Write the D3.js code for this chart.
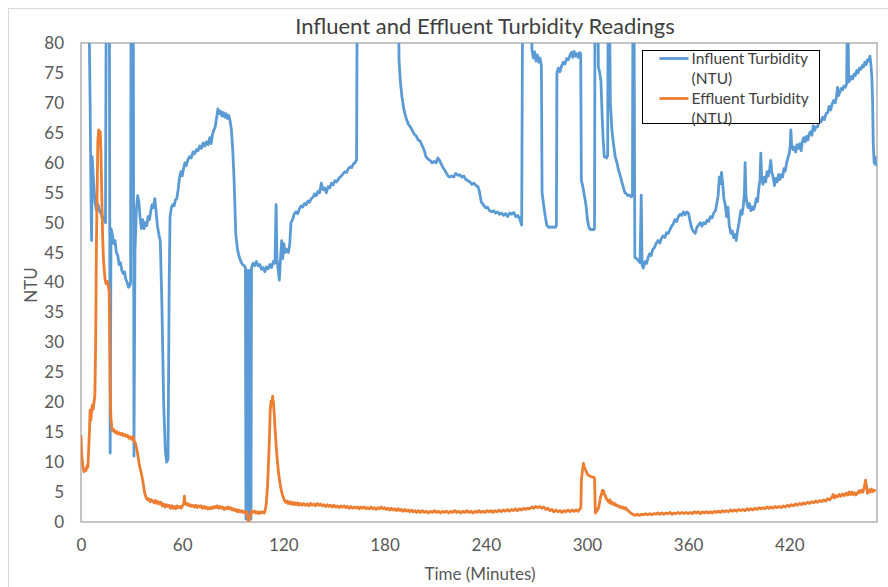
<!DOCTYPE html>
<html>
<head>
<meta charset="utf-8">
<script src="https://cdn.jsdelivr.net/npm/d3@7"></script>
<style>
  body { margin: 0; background: #fff; }
  text { font-family: Lato, "Open Sans", sans-serif; }
</style>
</head>
<body>
<div id="chart"></div>
<script>
// time in minutes, turbidity in NTU (values above 80 run off the top of the plot)
var influent = [
  [0, 95], [4.8, 84], [5.4, 70], [6.0, 52], [6.3, 47], [6.6, 61], [7.4, 57], [8.3, 53.5], [9.2, 52], [10.1, 53],
  [11.0, 52], [11.9, 51.5], [12.8, 50.5], [13.7, 51], [14.5, 50], [15.0, 90], [16.8, 90], [17.3, 11.5], [17.8, 49], [18.6, 48],
  [19.4, 46.5], [20.2, 47], [21.0, 45], [21.8, 44.5], [22.6, 43], [23.4, 43.3], [24.2, 42], [25.0, 41.5], [25.8, 41.8], [26.6, 40.5],
  [27.4, 40], [28.2, 39.2], [29.0, 39.5], [29.4, 40], [29.7, 90], [31.0, 90], [31.4, 11], [32.0, 45], [32.8, 52], [33.6, 54.5],
  [34.3, 53.5], [35.0, 51], [35.8, 49], [36.6, 50.5], [37.4, 49], [38.2, 50], [39.0, 49.5], [39.8, 51], [40.6, 50.5], [41.4, 52],
  [42.2, 53], [43.0, 52.5], [43.8, 54], [44.5, 52], [45.3, 49.5], [46.2, 48], [47.0, 47], [48.0, 36], [49.0, 20], [50.0, 12],
  [50.8, 10], [51.6, 10.5], [52.3, 40], [52.8, 51], [53.6, 52.5], [54.4, 53], [55.2, 52.8], [56.0, 53.8], [56.8, 54], [57.6, 55.5],
  [58.4, 57.5], [59.2, 58.5], [60.0, 57.8], [60.8, 59], [61.6, 60], [62.4, 59.5], [63.4, 60.5], [64.4, 61], [65.4, 60.8], [66.4, 61.8],
  [67.4, 61.5], [68.4, 62.2], [69.4, 62], [70.4, 62.8], [71.4, 62.4], [72.4, 63.3], [73.4, 62.8], [74.4, 63.5], [75.4, 63], [76.4, 64.2],
  [77.2, 63.2], [78.0, 64.8], [78.8, 65.5], [79.6, 66], [80.4, 67.5], [81.2, 69], [82.0, 68.2], [82.8, 68.6], [83.6, 67.8], [84.4, 68.4],
  [85.2, 67.6], [86.0, 68.2], [86.8, 67.4], [87.6, 67.9], [88.4, 67], [89.2, 65.5], [90.0, 62], [90.8, 57], [91.8, 48], [92.8, 45.5],
  [93.8, 44.3], [94.8, 43.5], [95.8, 43], [96.8, 42.8], [97.5, 42.5], [97.8, 0.5], [98.1, 42], [98.4, 0.5], [98.7, 42], [99.0, 0.5],
  [99.3, 42], [99.6, 0.5], [99.9, 42], [100.2, 0.5], [100.5, 42], [100.8, 0.5], [101.1, 42.5], [102.0, 43.2], [103.0, 42.8], [104.0, 43.5],
  [105.0, 42.8], [106.0, 43], [107.0, 42.2], [108.0, 42.5], [109.0, 41.8], [110.0, 42.6], [111.0, 42.3], [112.0, 43], [113.0, 42.5], [114.0, 43.5],
  [115.0, 43.2], [115.7, 53], [116.2, 44], [117.0, 42], [117.6, 40.4], [118.3, 44], [119.0, 47], [119.6, 44], [120.3, 46.5], [121.0, 45],
  [122.0, 45.5], [123.0, 45], [123.8, 46.5], [124.5, 50], [125.5, 50.5], [126.5, 51.5], [127.5, 51.8], [128.5, 51.5], [129.5, 52.3], [130.5, 52.8],
  [131.5, 52.6], [132.5, 53.2], [133.5, 53], [134.5, 53.6], [135.5, 53.4], [136.5, 54], [137.5, 54.2], [138.5, 54.8], [139.5, 54.5], [140.5, 55.2],
  [141.5, 55], [142.5, 56.6], [143.5, 55.5], [144.5, 55.8], [145.5, 55], [146.5, 56], [147.5, 55.8], [148.5, 56.6], [149.5, 56.3], [150.5, 57],
  [151.5, 56.8], [152.5, 57.2], [153.5, 57.6], [154.5, 57.8], [155.5, 58.2], [156.5, 58.5], [157.5, 58.4], [158.5, 59], [159.5, 59.3], [160.5, 59.2],
  [161.5, 59.8], [162.5, 60], [163.4, 60.5], [163.8, 90], [188.0, 90], [188.6, 77], [189.4, 73.5], [190.3, 71], [191.4, 69], [192.6, 67.6],
  [194.0, 66.5], [195.2, 66], [196.3, 65.5], [197.5, 64.8], [198.7, 64.5], [200.0, 63.8], [201.2, 63.6], [202.4, 62.8], [203.6, 62], [204.6, 61],
  [205.8, 60.6], [207.0, 60.4], [208.2, 60], [209.4, 60.2], [210.6, 60], [211.6, 60.8], [212.6, 60.4], [213.6, 59.8], [214.6, 59.2], [215.6, 58.8],
  [216.6, 58.3], [217.6, 57.8], [218.6, 57.6], [219.8, 57.8], [221.0, 57.6], [222.2, 58.2], [223.4, 57.9], [224.6, 58], [225.8, 57.6], [227.0, 57.8],
  [228.2, 57.2], [229.4, 57], [230.6, 56.8], [231.8, 56.4], [233.0, 56.6], [234.2, 56.2], [235.4, 56], [236.4, 55], [237.4, 53.4], [238.6, 53],
  [239.8, 52.5], [241.0, 52.6], [242.2, 52], [243.4, 51.8], [244.6, 52], [245.8, 51.6], [247.0, 51.8], [248.2, 51.4], [249.4, 51.6], [250.6, 51.2],
  [251.8, 51.5], [253.0, 51], [254.2, 51.6], [255.4, 51.4], [256.6, 51.7], [257.8, 51], [259.0, 51.2], [260.2, 50.6], [261.3, 49.6], [261.9, 90],
  [267.0, 90], [267.4, 79], [268.2, 77.5], [269.0, 78.5], [269.8, 77], [270.6, 78], [271.4, 76.8], [272.2, 77.5], [273.0, 76.2], [273.4, 55],
  [274.3, 53], [275.3, 51], [276.3, 49.5], [277.3, 49.2], [278.3, 49.3], [279.3, 49.2], [280.3, 49.3], [281.3, 49.2], [281.9, 49.5], [282.2, 75],
  [283.0, 75.8], [284.0, 75.2], [285.0, 76.2], [286.0, 76.8], [287.0, 76.5], [288.0, 77.4], [289.0, 77.2], [290.0, 78], [290.8, 78.4], [291.6, 77.6],
  [292.4, 78.6], [293.2, 77.8], [294.0, 78.2], [294.8, 77.6], [295.6, 78.4], [296.3, 78.2], [296.7, 57], [297.6, 56], [298.5, 54.5], [299.4, 53],
  [300.3, 50.5], [301.2, 49.2], [302.1, 48.8], [303.0, 48.9], [304.0, 48.8], [304.5, 49], [304.8, 90], [306.4, 90], [306.8, 76], [307.6, 75],
  [308.3, 73.7], [309.0, 68], [309.6, 64], [310.3, 61], [311.0, 61], [311.7, 60.8], [312.3, 61.2], [312.6, 90], [313.3, 90], [313.9, 70],
  [314.8, 65.5], [315.8, 63], [316.8, 61], [317.8, 60], [318.7, 58.8], [319.6, 58], [320.5, 57], [321.5, 56], [322.5, 55], [323.4, 54.8],
  [324.3, 54.5], [325.3, 54.6], [326.3, 54.3], [327.0, 54.5], [327.3, 90], [327.9, 90], [328.4, 44.2], [329.4, 44], [330.4, 43.7], [331.5, 43.3],
  [332.2, 54.6], [332.7, 43], [333.4, 42.4], [334.5, 43.5], [335.4, 43.2], [336.3, 44.2], [337.2, 44.8], [338.1, 44.5], [339.0, 45.5], [340.0, 45.8],
  [341.0, 46.5], [342.2, 47], [343.2, 46.6], [344.2, 47.4], [345.2, 47.8], [346.2, 47.5], [347.2, 48.3], [348.2, 48.2], [349.2, 48.8], [350.2, 49.4],
  [351.2, 49.8], [352.2, 50.5], [353.2, 50.2], [354.2, 51], [355.2, 51.4], [356.2, 51.2], [357.2, 51.8], [358.2, 51.3], [359.2, 51.8], [360.2, 51.6],
  [361.2, 50.2], [362.2, 49], [363.2, 48.5], [364.2, 48.2], [365.2, 49.2], [366.2, 49.6], [367.2, 50], [368.2, 49.4], [369.2, 50], [370.2, 49.8],
  [371.2, 50.4], [372.2, 50.2], [373.2, 51], [374.2, 50.8], [375.2, 51.6], [376.2, 52], [377.0, 53.2], [377.8, 54.5], [378.5, 57.6], [379.2, 56.5],
  [379.8, 58.4], [380.5, 56.5], [381.2, 54], [382.0, 53], [382.8, 51], [383.6, 52.6], [384.4, 49.5], [385.4, 48.2], [386.2, 48.6], [387.0, 47.5],
  [387.8, 48], [388.5, 47], [389.3, 48.6], [390.2, 50], [391.2, 52], [392.0, 51.4], [392.8, 53], [393.4, 55], [393.8, 60], [394.3, 54.5],
  [395.0, 53], [395.6, 52.5], [396.4, 53.2], [397.2, 52], [398.0, 52.6], [398.8, 52.2], [399.6, 52.8], [400.4, 54], [401.2, 53.5], [402.0, 56],
  [402.6, 57], [403.1, 61.6], [403.6, 57.5], [404.4, 56.4], [405.2, 57.6], [406.0, 56.8], [406.8, 58.5], [407.6, 57.8], [408.4, 59], [409.0, 60.4],
  [409.6, 58.5], [410.4, 57.6], [411.2, 56.2], [412.0, 57.4], [412.8, 56.8], [413.6, 58], [414.4, 57.2], [415.2, 58], [416.0, 57.6], [416.8, 59],
  [417.6, 58.6], [418.4, 60], [419.2, 60.8], [420.0, 61.6], [420.6, 63], [420.9, 65.5], [421.4, 63], [422.2, 62.2], [423.0, 62.6], [423.8, 61.8],
  [424.6, 63], [425.4, 62.4], [426.2, 63.2], [427.0, 62], [427.8, 63.6], [428.6, 64.2], [429.4, 63.5], [430.2, 64.4], [431.0, 63.8], [431.8, 64.8],
  [432.6, 65.2], [433.4, 64.6], [434.2, 66.2], [435.0, 65.4], [435.8, 66], [436.8, 66], [437.8, 67.2], [438.8, 66.8], [439.8, 67.6], [440.8, 67.2],
  [441.8, 68.2], [442.7, 68.3], [443.6, 69.4], [444.5, 68.8], [445.4, 69.8], [446.3, 70.4], [447.2, 70], [448.0, 71], [448.6, 72.6], [449.2, 71.2],
  [450.0, 71.8], [450.8, 72.4], [451.6, 72.2], [452.4, 72.8], [453.2, 72.6], [454.0, 73.2], [454.6, 90], [455.2, 73.5], [456.0, 73.8], [456.8, 74.4],
  [457.6, 74], [458.4, 74.8], [459.2, 74.6], [460.0, 75.4], [460.8, 75], [461.6, 75.8], [462.4, 75.6], [463.2, 76.2], [464.0, 76], [464.8, 76.8],
  [465.6, 76.4], [466.4, 77.2], [467.2, 77], [467.8, 77.8], [468.4, 76.4], [469.0, 74], [469.4, 70], [469.8, 63], [470.3, 60], [470.8, 61],
  [471.2, 59.5]
];

var effluent = [
  [0, 14.5], [0.3, 12], [0.7, 10.3], [1.2, 9.2], [1.8, 8.4], [2.4, 8.8], [3.0, 8.6], [3.6, 9.4], [4.1, 9.2], [4.6, 12.5],
  [5.0, 15], [5.4, 18.7], [5.9, 17], [6.3, 18.5], [6.7, 19.5], [7.2, 18.8], [7.7, 20], [8.2, 21], [8.7, 30], [9.1, 45],
  [9.6, 56], [10.0, 63.8], [10.5, 65.5], [11.0, 64.5], [11.4, 65.2], [11.8, 62], [12.3, 55], [12.8, 48], [13.3, 44], [13.8, 42],
  [14.3, 40.4], [15.0, 39.8], [15.6, 40.2], [16.2, 39.5], [16.7, 38.5], [17.1, 30], [17.4, 21], [17.7, 17.5], [18.2, 16], [18.8, 15.2],
  [19.6, 15.4], [20.4, 14.9], [21.2, 15.1], [22.0, 14.7], [22.8, 14.9], [23.6, 14.6], [24.4, 14.8], [25.2, 14.4], [26.0, 14.6], [26.8, 14.3],
  [27.6, 14.5], [28.4, 14], [29.2, 14.2], [30.0, 13.8], [30.8, 14.3], [31.5, 13.5], [32.2, 13.2], [33.0, 12.3], [33.8, 11], [34.6, 9.5],
  [35.4, 8.6], [36.2, 7.5], [37.0, 6.2], [37.8, 4.8], [38.6, 4.1], [39.4, 3.7], [40.2, 3.9], [41.0, 3.4], [41.8, 3.7], [42.6, 3.5],
  [43.4, 3.2], [44.2, 3.6], [45.0, 3.1], [45.8, 3.4], [46.6, 3.0], [47.4, 3.3], [48.2, 2.7], [49.0, 3.0], [49.8, 2.5], [50.6, 2.9],
  [51.4, 2.6], [52.2, 2.8], [53.0, 2.3], [53.8, 2.7], [54.6, 2.3], [55.4, 2.6], [56.2, 2.2], [57.0, 2.7], [57.8, 2.4], [58.6, 2.6],
  [59.4, 2.3], [60.2, 2.7], [60.9, 3.0], [61.3, 4.3], [61.7, 3.2], [62.4, 2.9], [63.2, 3.1], [64.0, 2.7], [64.8, 2.9], [65.6, 2.6],
  [66.4, 2.8], [67.2, 2.5], [68.0, 2.8], [68.8, 2.4], [69.6, 2.7], [70.4, 2.5], [71.2, 2.7], [72.0, 2.3], [72.8, 2.6], [73.6, 2.3],
  [74.4, 2.5], [75.2, 2.2], [76.0, 2.4], [76.8, 2.2], [77.6, 2.5], [78.4, 2.3], [79.2, 2.6], [80.0, 2.4], [80.8, 2.7], [81.6, 2.3],
  [82.4, 2.6], [83.2, 2.3], [84.0, 2.5], [84.8, 2.1], [85.6, 2.4], [86.4, 2.2], [87.2, 2.5], [88.0, 2.2], [88.8, 2.4], [89.6, 2.0],
  [90.4, 2.2], [91.2, 1.9], [92.0, 2.1], [92.8, 1.7], [93.6, 2.0], [94.4, 1.7], [95.2, 1.9], [96.0, 1.6], [96.8, 1.8], [97.6, 1.5],
  [98.3, 1.7], [98.8, 0.8], [99.3, 0.2], [99.9, 0.4], [100.5, 1.2], [101.2, 1.8], [102.0, 1.6], [102.9, 1.8], [103.8, 1.5], [104.6, 1.7],
  [105.4, 1.4], [106.2, 1.7], [107.0, 1.5], [107.8, 1.7], [108.6, 1.5], [109.3, 2.0], [109.9, 3.2], [110.6, 6], [111.2, 10], [111.7, 13.5],
  [112.2, 18.7], [112.7, 20.2], [113.2, 19.5], [113.6, 21], [114.1, 20], [114.6, 18], [115.2, 15], [115.8, 12.5], [116.5, 10], [117.2, 8],
  [118.0, 6.5], [118.8, 5.2], [119.6, 4.4], [120.4, 3.8], [121.2, 3.3], [122.0, 3.5], [122.8, 3.1], [123.6, 3.4], [124.4, 3.0], [125.2, 3.3],
  [126.0, 2.9], [126.8, 3.2], [127.6, 2.9], [128.4, 3.2], [129.2, 2.8], [130.0, 3.1], [131.0, 2.8], [132.0, 3.1], [133.0, 2.8], [134.0, 3.0],
  [135.0, 2.7], [136.0, 3.1], [137.0, 2.8], [138.0, 3.0], [139.0, 2.7], [140.0, 3.1], [141.0, 2.8], [142.0, 3.0], [143.0, 2.7], [144.0, 2.9],
  [145.0, 2.6], [146.0, 2.9], [147.0, 2.6], [148.0, 2.8], [149.0, 2.5], [150.0, 2.8], [151.0, 2.5], [152.0, 2.7], [153.0, 2.4], [154.0, 2.7],
  [155.0, 2.5], [156.0, 2.7], [157.0, 2.4], [158.0, 2.6], [159.0, 2.3], [160.0, 2.6], [161.0, 2.3], [162.0, 2.5], [163.0, 2.3], [164.0, 2.5],
  [165.0, 2.2], [166.0, 2.5], [167.0, 2.3], [168.0, 2.5], [169.0, 2.2], [170.0, 2.4], [171.0, 2.2], [172.0, 2.5], [173.0, 2.2], [174.0, 2.4],
  [175.0, 2.1], [176.0, 2.4], [177.0, 2.2], [178.0, 2.5], [179.0, 2.2], [180.0, 2.4], [181.0, 2.1], [182.0, 2.3], [183.0, 2.0], [184.0, 2.3],
  [185.0, 2.0], [186.0, 2.2], [187.0, 1.9], [188.0, 2.2], [189.0, 1.9], [190.0, 2.1], [191.0, 1.8], [192.0, 2.1], [193.0, 1.8], [194.0, 2.0],
  [195.0, 1.7], [196.0, 2.0], [197.0, 1.7], [198.0, 1.9], [199.0, 1.6], [200.0, 1.9], [201.2, 1.6], [202.4, 1.9], [203.6, 1.6], [204.8, 1.8],
  [206.0, 1.5], [207.2, 1.8], [208.4, 1.6], [209.6, 1.9], [210.8, 1.6], [212.0, 1.8], [213.2, 1.5], [214.4, 1.8], [215.6, 1.6], [216.8, 1.8],
  [218.0, 1.5], [219.2, 1.8], [220.4, 1.6], [221.6, 1.9], [222.8, 1.6], [224.0, 1.8], [225.2, 1.5], [226.4, 1.8], [227.6, 1.6], [228.8, 1.9],
  [230.0, 1.6], [231.2, 1.8], [232.4, 1.5], [233.6, 1.8], [234.8, 1.6], [236.0, 1.9], [237.2, 1.6], [238.4, 1.8], [239.6, 1.6], [240.8, 1.9],
  [242.0, 1.7], [243.2, 1.9], [244.4, 1.6], [245.6, 1.9], [246.8, 1.7], [248.0, 2.0], [249.2, 1.7], [250.4, 2.0], [251.6, 1.8], [252.8, 2.1],
  [254.0, 1.8], [255.2, 2.1], [256.4, 1.9], [257.6, 2.2], [258.8, 1.9], [260.0, 2.2], [261.2, 2.0], [262.4, 2.3], [263.6, 2.1], [264.8, 2.3],
  [266.0, 2.2], [267.2, 2.5], [268.4, 2.3], [269.6, 2.6], [270.8, 2.4], [272.0, 2.6], [273.2, 2.3], [274.4, 2.5], [275.6, 2.1], [276.8, 2.3],
  [278.0, 1.9], [279.2, 2.1], [280.4, 1.7], [281.6, 2.0], [282.8, 1.7], [284.0, 1.9], [285.2, 1.6], [286.4, 1.9], [287.6, 1.7], [288.8, 2.0],
  [290.0, 1.7], [291.2, 2.0], [292.4, 1.8], [293.6, 2.0], [294.8, 1.8], [295.8, 2.2], [296.4, 2.4], [296.7, 7], [297.3, 8.5], [297.9, 9.8],
  [298.5, 9.2], [299.1, 8.7], [299.7, 8.4], [300.3, 8.0], [300.9, 7.8], [301.6, 7.7], [302.3, 7.6], [303.0, 7.5], [303.8, 7.5], [304.5, 7.3],
  [305.0, 1.5], [305.6, 1.8], [306.2, 2.0], [306.8, 2.3], [307.5, 3.2], [308.1, 4.2], [308.6, 4.6], [309.2, 5.3], [309.8, 5.2], [310.4, 4.6],
  [311.0, 4.3], [311.6, 3.9], [312.3, 3.6], [313.0, 3.3], [313.6, 3.7], [314.3, 3.1], [315.0, 3.3], [315.8, 2.9], [316.6, 3.1], [317.4, 2.7],
  [318.2, 2.8], [319.0, 2.5], [319.8, 2.6], [320.6, 2.3], [321.4, 2.5], [322.2, 2.2], [323.0, 2.4], [323.8, 2.0], [324.6, 1.9], [325.4, 1.6],
  [326.2, 1.5], [327.0, 1.3], [328.0, 1.2], [329.0, 1.1], [330.0, 1.3], [331.2, 1.1], [332.4, 1.3], [333.6, 1.2], [334.8, 1.4], [336.0, 1.2],
  [337.2, 1.4], [338.4, 1.2], [339.6, 1.4], [340.8, 1.3], [342.0, 1.5], [343.2, 1.3], [344.4, 1.5], [345.6, 1.3], [346.8, 1.5], [348.0, 1.4],
  [349.2, 1.6], [350.4, 1.3], [351.6, 1.5], [352.8, 1.4], [354.0, 1.6], [355.2, 1.4], [356.4, 1.6], [357.6, 1.4], [358.8, 1.6], [360.0, 1.4],
  [361.2, 1.6], [362.4, 1.4], [363.6, 1.7], [364.8, 1.5], [366.0, 1.7], [367.2, 1.4], [368.4, 1.7], [369.6, 1.5], [370.8, 1.7], [372.0, 1.5],
  [373.2, 1.7], [374.4, 1.5], [375.6, 1.8], [376.8, 1.6], [378.0, 1.8], [379.2, 1.6], [380.4, 1.9], [381.6, 1.7], [382.8, 1.9], [384.0, 1.7],
  [385.2, 2.0], [386.4, 1.8], [387.6, 2.0], [388.8, 1.8], [390.0, 2.1], [391.2, 1.9], [392.4, 2.1], [393.6, 1.9], [394.8, 2.2], [396.0, 2.0],
  [397.2, 2.2], [398.4, 2.0], [399.6, 2.3], [400.8, 2.1], [402.0, 2.4], [403.2, 2.2], [404.4, 2.4], [405.6, 2.2], [406.8, 2.5], [408.0, 2.3],
  [409.2, 2.5], [410.4, 2.3], [411.6, 2.6], [412.8, 2.4], [414.0, 2.6], [415.2, 2.4], [416.4, 2.7], [417.6, 2.5], [418.8, 2.8], [420.0, 2.6],
  [421.2, 2.9], [422.4, 2.7], [423.6, 3.0], [424.8, 2.8], [426.0, 3.1], [427.2, 2.9], [428.4, 3.2], [429.6, 3.0], [430.8, 3.3], [432.0, 3.1],
  [433.2, 3.4], [434.4, 3.2], [435.6, 3.5], [436.8, 3.3], [438.0, 3.6], [439.2, 3.4], [440.4, 3.7], [441.6, 3.5], [442.8, 3.9], [444.0, 3.7],
  [445.2, 4.1], [446.0, 4.6], [446.8, 4.0], [447.6, 4.4], [448.6, 4.2], [449.6, 4.6], [450.6, 4.3], [451.6, 4.7], [452.6, 4.4], [453.6, 4.8],
  [454.6, 4.5], [455.4, 5.0], [456.2, 4.6], [457.0, 5.0], [457.8, 4.6], [458.6, 4.9], [459.4, 4.5], [460.4, 4.8], [461.2, 5.2], [462.0, 4.9],
  [462.8, 5.3], [463.6, 5.0], [464.3, 5.6], [464.8, 6.2], [465.2, 7.0], [465.7, 6.0], [466.4, 4.8], [467.2, 5.4], [468.0, 5.0], [468.8, 5.5],
  [469.6, 5.1], [470.4, 5.3], [471.2, 5.1]
];

var xTicks = [0, 60, 120, 180, 240, 300, 360, 420];
var yTicks = [0, 5, 10, 15, 20, 25, 30, 35, 40, 45, 50, 55, 60, 65, 70, 75, 80];
var seriesNames = [["Influent Turbidity", "(NTU)"], ["Effluent Turbidity", "(NTU)"]];
var seriesColors = ["#5b9bd5", "#ed7d31"];

var W = 888, H = 587;
var margin = {top: 43, right: 11, bottom: 65, left: 81},
    width = W - margin.left - margin.right,
    height = H - margin.top - margin.bottom;

var svg = d3.select("#chart").append("svg")
    .attr("width", W)
    .attr("height", H);

// outer chart frame
svg.append("rect")
    .attr("x", 8.5).attr("y", 8.5)
    .attr("width", W).attr("height", H)
    .attr("fill", "none")
    .attr("stroke", "#d9d9d9");

var g = svg.append("g")
    .attr("transform", "translate(" + margin.left + "," + margin.top + ")");

var x = d3.scaleLinear().domain([0, 472]).range([0, width]);
var y = d3.scaleLinear().domain([0, 80]).range([height, 0]);

svg.append("defs").append("clipPath").attr("id", "plotClip")
  .append("rect").attr("x", 0).attr("y", 0).attr("width", width).attr("height", height);

// x axis labels
var xAxis = g.append("g")
    .attr("transform", "translate(0," + height + ")")
    .call(d3.axisBottom(x).tickValues(xTicks).tickSize(0).tickPadding(17));
xAxis.select(".domain").remove();
xAxis.selectAll("text")
    .attr("fill", "#595959")
    .style("font-size", "17px")
    .style("font-family", "Lato, sans-serif");

// y axis labels
var yAxis = g.append("g")
    .call(d3.axisLeft(y).tickValues(yTicks).tickSize(0).tickPadding(17));
yAxis.select(".domain").remove();
yAxis.selectAll("text")
    .attr("fill", "#595959")
    .style("font-size", "17px")
    .style("font-family", "Lato, sans-serif");

// plot area border
g.append("rect")
    .attr("x", 0).attr("y", 0)
    .attr("width", width).attr("height", height)
    .attr("fill", "none")
    .attr("stroke", "#8c8c8c")
    .attr("stroke-width", 1);

var line = d3.line()
    .x(function(d) { return x(d[0]); })
    .y(function(d) { return y(d[1]); });

var lines = g.append("g").attr("clip-path", "url(#plotClip)");

lines.append("path")
    .datum(influent)
    .attr("fill", "none")
    .attr("stroke", seriesColors[0])
    .attr("stroke-width", 2.8)
    .attr("stroke-linejoin", "round")
    .attr("d", line);

lines.append("path")
    .datum(effluent)
    .attr("fill", "none")
    .attr("stroke", seriesColors[1])
    .attr("stroke-width", 2.8)
    .attr("stroke-linejoin", "round")
    .attr("d", line);

// title
svg.append("text")
    .attr("x", 485).attr("y", 34)
    .attr("text-anchor", "middle")
    .attr("fill", "#404040")
    .style("font-size", "22px")
    .text("Influent and Effluent Turbidity Readings");

// axis titles
svg.append("text")
    .attr("x", 480).attr("y", 580)
    .attr("text-anchor", "middle")
    .attr("fill", "#595959")
    .style("font-size", "17px")
    .text("Time (Minutes)");

svg.append("text")
    .attr("transform", "translate(37,285) rotate(-90)")
    .attr("text-anchor", "middle")
    .attr("fill", "#595959")
    .style("font-size", "17px")
    .text("NTU");

// legend
var legend = svg.append("g").attr("transform", "translate(642.5,50.5)");
legend.append("rect")
    .attr("width", 177).attr("height", 73)
    .attr("fill", "#fff")
    .attr("stroke", "#000");

seriesNames.forEach(function(n, i) {
    var row = legend.append("g").attr("transform", "translate(0," + (i * 40) + ")");
    row.append("line")
        .attr("x1", 17).attr("x2", 46)
        .attr("y1", 8).attr("y2", 8)
        .attr("stroke", seriesColors[i])
        .attr("stroke-width", 2.8);
    row.append("text")
        .attr("x", 49).attr("y", 13)
        .attr("fill", "#404040")
        .style("font-size", "15.5px")
        .text(n[0]);
    row.append("text")
        .attr("x", 49).attr("y", 33)
        .attr("fill", "#404040")
        .style("font-size", "15.5px")
        .text(n[1]);
});
</script>
</body>
</html>
